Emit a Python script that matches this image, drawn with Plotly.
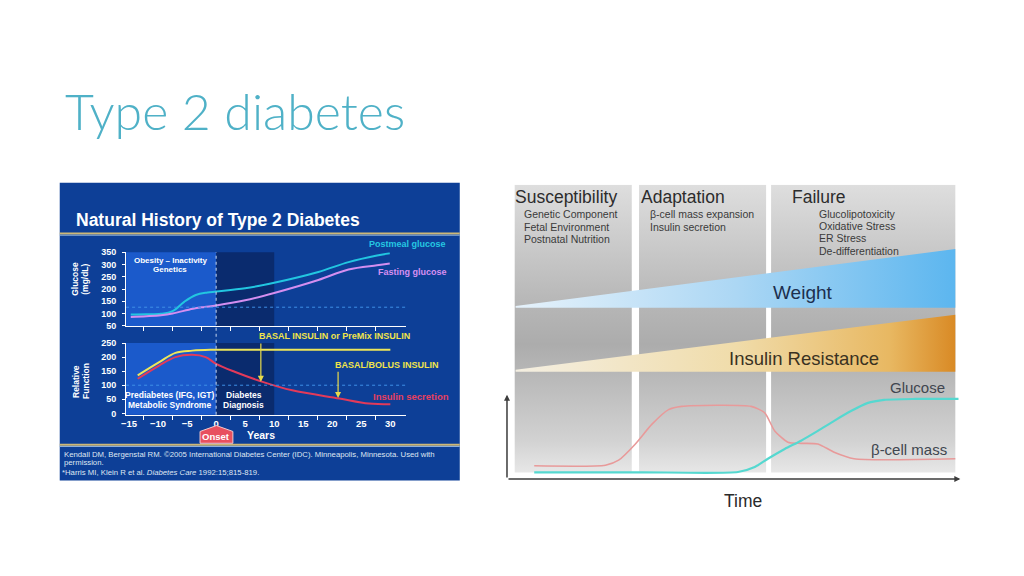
import plotly.graph_objects as go

# ---- left chart: Natural History of Type 2 Diabetes ----
postmeal_yr = [-14.7, -12, -9.5, -7.5, -5.5, -3.5, -1.5, 0, 5, 10, 17.6, 22.8, 27.7, 29.9]
postmeal = [96, 97, 99, 110, 148, 176, 186, 190, 203, 226, 270, 310, 337, 346]
fasting_yr = [-14.7, -12, -9.5, -7.5, -4, -2, 0, 5, 10, 17.6, 22.8, 27.7, 29.9]
fasting = [86, 89, 93, 100, 120, 127, 133, 154, 184, 237, 280, 297, 304]

resist_yr = [-13.5, -9.8, -7, -4.1, -1, 0, 30]
resist = [135, 182, 215, 223, 226, 226, 226]
secretion_yr = [-13.5, -9.8, -7, -4.1, -1.8, 0, 3.3, 8, 13.1, 21.2, 26.3, 30]
secretion = [123, 170, 200, 208, 200, 176, 147, 112, 82, 53, 35, 32]

year_ticks = [-15, -10, -5, 0, 5, 10, 15, 20, 25, 30]
year_minor = [-12.5, -7.5, -2.5, 2.5, 7.5, 12.5, 17.5, 22.5, 27.5]
glucose_ticks = [50, 100, 150, 200, 250, 300, 350]
function_ticks = [0, 50, 100, 150, 200, 250]
glucose_threshold = 126
function_threshold = 100
prediabetes_span = [-15.5, 0]
diagnosis_span = [0, 10]
basal_arrow = [7.7, 254, 112]      # year, from, to
bolus_arrow = [21.0, 153, 55]

# ---- right chart: phases, weight, insulin resistance, glucose, beta-cell mass ----
phase_names = ["Susceptibility", "Adaptation", "Failure"]
phase_start = [1.8, 29.2, 58.3]
phase_end = [27.6, 57.2, 98.9]
phase_items = [
    ["Genetic Component", "Fetal Environment", "Postnatal Nutrition"],
    ["β-cell mass expansion", "Insulin secretion"],
    ["Glucolipotoxicity", "Oxidative Stress", "ER Stress", "De-differentiation"],
]
wedge_t = [2, 98.9]
weight_low = [58.4, 58.4]
weight_high = [59.0, 78.3]
ir_low = [36.8, 36.8]
ir_high = [37.5, 56.1]

glucose_t = [6.1, 30, 51, 54.7, 57.6, 61.3, 64.9, 68.6, 72.2, 75.9, 79.5, 83.2, 90, 99.6]
glucose_v = [2.8, 2.8, 2.9, 4.6, 7.4, 10.7, 13.5, 16.8, 20.2, 23.5, 26.2, 27.3, 27.6, 27.6]
beta_t = [6.1, 21.8, 24.7, 28.4, 32, 35.7, 38.6, 53.9, 56.9, 59.1, 62, 64.9, 68.6, 72.2, 76.6, 98.9]
beta_v = [5.0, 5.2, 6.9, 12.4, 19, 24, 25.1, 25.1, 22.9, 16.8, 13, 12.6, 12.4, 9.6, 7.4, 7.4]


def px(X):
    return X / 1024


def py(Y):
    return 1 - Y / 576


ARIAL = "Liberation Sans, Arial, sans-serif"
WHITE = "#ffffff"

fig = go.Figure()

# left curves
fig.add_trace(go.Scatter(x=postmeal_yr, y=postmeal, mode="lines", name="Postmeal glucose",
                         line=dict(color="#22c6e0", width=2, shape="spline"), xaxis="x", yaxis="y"))
fig.add_trace(go.Scatter(x=fasting_yr, y=fasting, mode="lines", name="Fasting glucose",
                         line=dict(color="#d48ef0", width=2, shape="spline"), xaxis="x", yaxis="y"))
fig.add_trace(go.Scatter(x=resist_yr, y=resist, mode="lines", name="Insulin resistance",
                         line=dict(color="#eee65a", width=2, shape="spline"), xaxis="x2", yaxis="y2"))
fig.add_trace(go.Scatter(x=secretion_yr, y=secretion, mode="lines", name="Insulin secretion",
                         line=dict(color="#e23a5a", width=2, shape="spline"), xaxis="x2", yaxis="y2"))

# right: phase columns
gray_scale = [[0, "#f6f6f6"], [0.05, "#e6e6e6"], [0.15, "#d2d2d2"], [0.35, "#bababa"],
              [0.47, "#acacac"], [0.6, "#b6b6b6"], [0.78, "#c8c8c8"], [1, "#dedede"]]
for s, e in zip(phase_start, phase_end):
    fig.add_trace(go.Scatter(
        x=[s, e, e, s, s], y=[2.7, 2.7, 100, 100, 2.7], mode="lines", fill="toself",
        line=dict(width=0), xaxis="x3", yaxis="y3", hoverinfo="skip",
        fillgradient=dict(type="vertical", colorscale=gray_scale, start=0, stop=100),
    ))

fig.add_trace(go.Scatter(
    x=wedge_t + wedge_t[::-1], y=weight_low + weight_high[::-1], mode="lines", fill="toself",
    line=dict(width=0), xaxis="x3", yaxis="y3", name="Weight",
    fillgradient=dict(type="horizontal",
                      colorscale=[[0, "#e6f2fb"], [0.5, "#acd7f4"], [1, "#5cb6ef"]]),
))
fig.add_trace(go.Scatter(
    x=wedge_t + wedge_t[::-1], y=ir_low + ir_high[::-1], mode="lines", fill="toself",
    line=dict(width=0), xaxis="x3", yaxis="y3", name="Insulin Resistance",
    fillgradient=dict(type="horizontal",
                      colorscale=[[0, "#f4efe2"], [0.5, "#f0dcaa"], [0.85, "#e8b862"], [1, "#d98a25"]]),
))
fig.add_trace(go.Scatter(x=beta_t, y=beta_v, mode="lines", name="β-cell mass",
                         line=dict(color="#e89a9a", width=1.6, shape="spline", smoothing=0.6),
                         xaxis="x3", yaxis="y3"))
fig.add_trace(go.Scatter(x=glucose_t, y=glucose_v, mode="lines", name="Glucose",
                         line=dict(color="#55d8d0", width=2.2, shape="spline", smoothing=0.6),
                         xaxis="x3", yaxis="y3"))

shapes = [
    dict(type="rect", xref="paper", yref="paper", x0=px(55), x1=px(457), y0=py(484), y1=py(181),
         fillcolor="#0d3f97", line_width=0, layer="below"),
    dict(type="line", xref="paper", yref="paper", x0=px(55), x1=px(457), y0=py(232.5), y1=py(232.5),
         line=dict(color="#cdb877", width=2)),
    dict(type="line", xref="paper", yref="paper", x0=px(55), x1=px(457), y0=py(234.3), y1=py(234.3),
         line=dict(color="#8fb2dc", width=1)),
    dict(type="line", xref="paper", yref="paper", x0=px(55), x1=px(457), y0=py(447.5), y1=py(447.5),
         line=dict(color="#cdb877", width=2)),
    dict(type="line", xref="paper", yref="paper", x0=px(55), x1=px(457), y0=py(449.3), y1=py(449.3),
         line=dict(color="#8fb2dc", width=1)),
]
for xr, yr in [("x", "y"), ("x2", "y2")]:
    shapes.append(dict(type="rect", xref=xr, yref=yr + " domain", x0=prediabetes_span[0],
                       x1=prediabetes_span[1], y0=0, y1=1, fillcolor="#1b5acb",
                       line_width=0, layer="below"))
    shapes.append(dict(type="rect", xref=xr, yref=yr + " domain", x0=diagnosis_span[0],
                       x1=diagnosis_span[1], y0=0, y1=1, fillcolor="#0a2b6e",
                       line_width=0, layer="below"))
shapes += [
    dict(type="line", xref="x domain", yref="y", x0=0, x1=1, y0=glucose_threshold,
         y1=glucose_threshold, line=dict(color="#3f8fe6", width=1, dash="dot")),
    dict(type="line", xref="x2 domain", yref="y2", x0=0, x1=1, y0=function_threshold,
         y1=function_threshold, line=dict(color="#3f8fe6", width=1, dash="dot")),
    dict(type="line", xref="x", yref="paper", x0=0, x1=0, y0=py(417), y1=py(251.7),
         line=dict(color="#c8d8f0", width=1, dash="dot")),
    dict(type="path", xref="paper", yref="paper",
         path=(f"M {px(196)},{py(446)} L {px(196)},{py(434)} L {px(212.5)},{py(428)} "
               f"L {px(229)},{py(434)} L {px(229)},{py(446)} Z"),
         fillcolor="#e8505f", line=dict(color="#f4c8cc", width=1)),
]


def note(text, X, Y, size, color=WHITE, xanchor="left", bold=True, family=ARIAL, angle=0):
    shift = {"left": -4, "right": 3}.get(xanchor, 0)
    return dict(text=f"<b>{text}</b>" if bold else text, x=px(X), y=py(Y), xref="paper",
                yref="paper", showarrow=False, xanchor=xanchor, yanchor="middle", xshift=shift,
                textangle=angle, font=dict(size=size, color=color, family=family))


annotations = [
    dict(text="Type 2 diabetes", x=px(58), y=py(108), xref="paper", yref="paper",
         showarrow=False, xanchor="left", yanchor="middle",
         font=dict(size=50, color="#4fb1c7", family="Lato, Open Sans, sans-serif", weight=300)),
    note("Natural History of Type 2 Diabetes", 73, 219, 17.5),
    note("Postmeal glucose", 368, 243, 9, "#25c8e2"),
    note("Fasting glucose", 377, 272, 9, "#d690f2"),
    note("Obesity – Inactivity", 166, 260, 8, xanchor="center"),
    note("Genetics", 166, 269.5, 8, xanchor="center"),
    note("Prediabetes (IFG, IGT)", 165, 397, 8.5, xanchor="center"),
    note("Metabolic Syndrome", 165, 407, 8.5, xanchor="center"),
    note("Diabetes", 240, 397, 8.5, xanchor="center"),
    note("Diagnosis", 240, 407, 8.5, xanchor="center"),
    note("BASAL INSULIN or PreMix INSULIN", 257, 337, 9, "#f0e44a"),
    note("BASAL/BOLUS INSULIN", 334, 366, 9, "#f0e44a"),
    note("Insulin secretion", 372, 398, 9.5, "#e8405e"),
    note("Onset", 212.5, 439, 9.5, xanchor="center"),
    note("Years", 245, 437.5, 10.5),
    note("Glucose", 71, 279, 8.5, xanchor="center", angle=-90),
    note("(mg/dL)", 81, 279, 8.5, xanchor="center", angle=-90),
    note("Relative", 72, 383, 8.5, xanchor="center", angle=-90),
    note("Function", 82, 383, 8.5, xanchor="center", angle=-90),
    note("Kendall DM, Bergenstal RM. ©2005 International Diabetes Center (IDC). Minneapolis, "
         "Minnesota. Used with", 61, 457, 7.75, "#dfe6f2", bold=False),
    note("permission.", 61, 466, 7.75, "#dfe6f2", bold=False),
    note("*Harris MI, Klein R et al. <i>Diabetes Care</i> 1992:15;815-819.", 59, 476, 7.75,
         "#dfe6f2", bold=False),
    # right panel
    note("Weight", 802, 293, 19, "#1c2f4e", xanchor="center", bold=False),
    note("Insulin Resistance", 803, 360, 18.5, "#3a3222", xanchor="center", bold=False),
    note("Glucose", 944, 389, 15, "#40464f", xanchor="right", bold=False),
    note("β-cell mass", 946, 452, 15, "#40464f", xanchor="right", bold=False),
    note("Time", 742, 505, 17.5, "#2a2a2a", xanchor="center", bold=False),
    dict(x=basal_arrow[0], y=basal_arrow[2], ax=basal_arrow[0], ay=basal_arrow[1],
         xref="x2", yref="y2", axref="x2", ayref="y2", showarrow=True, text="",
         arrowhead=2, arrowsize=1, arrowwidth=1.2, arrowcolor="#e8da4a"),
    dict(x=bolus_arrow[0], y=bolus_arrow[2], ax=bolus_arrow[0], ay=bolus_arrow[1],
         xref="x2", yref="y2", axref="x2", ayref="y2", showarrow=True, text="",
         arrowhead=2, arrowsize=1, arrowwidth=1.2, arrowcolor="#e8da4a"),
    dict(x=100, y=0.5, ax=0.1, ay=0.5, xref="x3", yref="y3", axref="x3", ayref="y3",
         showarrow=True, text="", arrowhead=2, arrowsize=0.8, arrowwidth=1.5, arrowcolor="#3c3c3c"),
    dict(x=0.1, y=29, ax=0.1, ay=0.5, xref="x3", yref="y3", axref="x3", ayref="y3",
         showarrow=True, text="", arrowhead=2, arrowsize=0.8, arrowwidth=1.5, arrowcolor="#3c3c3c"),
]

phase_x = [515, 641, 793]
item_x = [524, 650, 820]
item_y0 = [213, 213, 212.3]
for i, name in enumerate(phase_names):
    annotations.append(note(name, phase_x[i], 195, 17.5, "#2c2c2c", bold=False))
    for j, item in enumerate(phase_items[i]):
        annotations.append(note(item, item_x[i], item_y0[i] + 12.6 * j, 10.5, "#3a3a3a", bold=False))

tickfont = dict(size=9, color=WHITE, family=ARIAL, weight="bold")
xcommon = dict(range=[-15.5, 32.7], domain=[px(121.7), px(403)], showgrid=False, zeroline=False,
               showline=True, linecolor=WHITE, linewidth=1)
ycommon = dict(showgrid=False, zeroline=False, showline=True, linecolor=WHITE, linewidth=1,
               ticks="outside", ticklen=3, tickcolor=WHITE, tickfont=tickfont,
               tickmode="array", ticklabelstandoff=4)

fig.update_layout(
    width=1024, height=576, margin=dict(l=0, r=0, t=0, b=0),
    paper_bgcolor="white", plot_bgcolor="rgba(0,0,0,0)", showlegend=False,
    xaxis=dict(**xcommon, anchor="y", tickmode="array", tickvals=year_minor, ticks="outside",
               ticklen=4, tickcolor=WHITE, showticklabels=False),
    yaxis=dict(**ycommon, anchor="x", domain=[py(327), py(251.7)], range=[48, 350],
               tickvals=glucose_ticks),
    xaxis2=dict(**xcommon, anchor="y2", tickmode="array", tickvals=year_ticks, ticks="",
                tickfont=dict(size=9.5, color=WHITE, family=ARIAL, weight="bold"),
                minor=dict(tickmode="array", tickvals=year_minor, ticks="outside", ticklen=4,
                           tickcolor=WHITE)),
    yaxis2=dict(**ycommon, anchor="x2", domain=[py(417), py(344)], range=[-5, 250],
                tickvals=function_ticks),
    xaxis3=dict(domain=[px(504), px(960)], range=[0, 100], visible=False, anchor="y3"),
    yaxis3=dict(domain=[py(484), py(183)], range=[0, 100], visible=False, anchor="x3"),
    shapes=shapes, annotations=annotations,
)

fig.write_html("out.html", config={"displayModeBar": False},
               post_script="document.body.style.margin='0';document.body.style.overflow='hidden';")
